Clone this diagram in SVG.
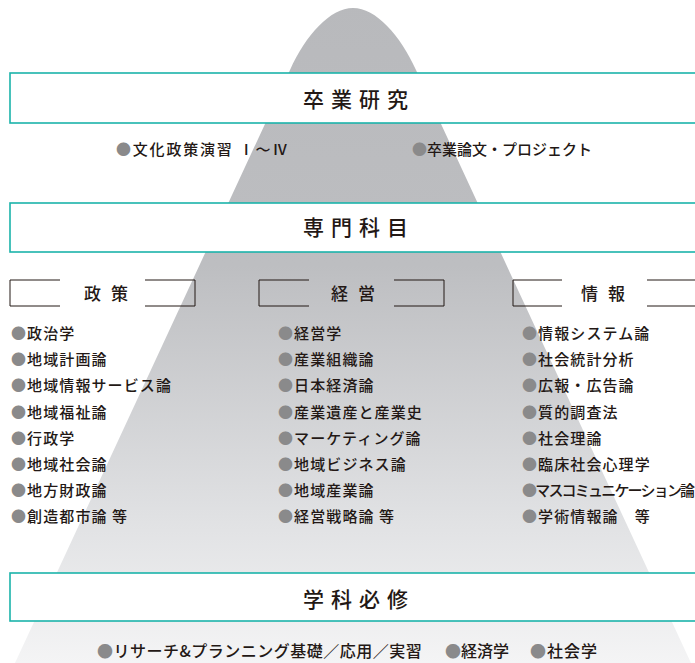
<svg xmlns="http://www.w3.org/2000/svg" width="695" height="663" viewBox="0 0 695 663">
<defs>
<linearGradient id="mtn" x1="0" y1="0" x2="0" y2="663" gradientUnits="userSpaceOnUse">
<stop offset="0" stop-color="#b8b9bc"/>
<stop offset="0.4" stop-color="#bdbec1"/>
<stop offset="0.8" stop-color="#e2e3e5"/>
<stop offset="1" stop-color="#f4f4f5"/>
</linearGradient>
<style>
.t{font-family:"Noto Sans CJK JP","Noto Sans CJK SC",sans-serif;fill:#231815;font-weight:500}
.title{font-size:21px;letter-spacing:7px;text-anchor:middle}
.hd{font-size:17px;letter-spacing:10px;text-anchor:middle}
.li{font-size:15px;letter-spacing:1.1px}
.sm{font-size:15px}
.bt{font-size:16px}
.b{fill:#8a8a8b}
.box{fill:#fff;stroke:#1bb3aa;stroke-width:1.6}
.br{fill:none;stroke:#231815;stroke-width:1}
</style>
</defs>
<rect width="695" height="663" fill="#fff"/>
<g id="mountain">
<path d="M15,663 L290,70 C306,35 330,8 353,8 C376,8 400,35 416,70 L691,663 Z" fill="url(#mtn)"/>
</g>
<g id="sotsugyo-kenkyu">
<rect class="box" x="10" y="73" width="700" height="50"/>
<text class="t title" x="359" y="106.5">卒業研究</text>
</g>
<g id="sotsugyo-items">
<text class="t sm" x="116" y="155" style="letter-spacing:1.8px"><tspan class="b">●</tspan>文化政策演習 Ⅰ〜Ⅳ</text>
<text class="t sm" x="412" y="155" style="letter-spacing:0px"><tspan class="b">●</tspan>卒業論文・プロジェクト</text>
</g>
<g id="senmon-kamoku">
<rect class="box" x="10" y="203" width="700" height="49"/>
<text class="t title" x="359" y="235">専門科目</text>
</g>
<g id="seisaku">
<polyline class="br" points="60,280 10,280 10,306 60,306"/>
<polyline class="br" points="145,280 195,280 195,306 145,306"/>
<text class="t hd" x="111" y="299.5">政策</text>
<text class="t li" x="11" y="339"><tspan class="b">●</tspan>政治学</text>
<text class="t li" x="11" y="365.2"><tspan class="b">●</tspan>地域計画論</text>
<text class="t li" x="11" y="391.4"><tspan class="b">●</tspan>地域情報サービス論</text>
<text class="t li" x="11" y="417.6"><tspan class="b">●</tspan>地域福祉論</text>
<text class="t li" x="11" y="443.8"><tspan class="b">●</tspan>行政学</text>
<text class="t li" x="11" y="470"><tspan class="b">●</tspan>地域社会論</text>
<text class="t li" x="11" y="496.2"><tspan class="b">●</tspan>地方財政論</text>
<text class="t li" x="11" y="522.4"><tspan class="b">●</tspan>創造都市論 等</text>
</g>
<g id="keiei">
<polyline class="br" points="309,280 259,280 259,306 309,306"/>
<polyline class="br" points="394,280 444,280 444,306 394,306"/>
<text class="t hd" x="358" y="299.5">経営</text>
<text class="t li" x="278" y="339"><tspan class="b">●</tspan>経営学</text>
<text class="t li" x="278" y="365.2"><tspan class="b">●</tspan>産業組織論</text>
<text class="t li" x="278" y="391.4"><tspan class="b">●</tspan>日本経済論</text>
<text class="t li" x="278" y="417.6"><tspan class="b">●</tspan>産業遺産と産業史</text>
<text class="t li" x="278" y="443.8"><tspan class="b">●</tspan>マーケティング論</text>
<text class="t li" x="278" y="470"><tspan class="b">●</tspan>地域ビジネス論</text>
<text class="t li" x="278" y="496.2"><tspan class="b">●</tspan>地域産業論</text>
<text class="t li" x="278" y="522.4"><tspan class="b">●</tspan>経営戦略論 等</text>
</g>
<g id="joho">
<polyline class="br" points="562,280 513,280 513,306 562,306"/>
<polyline class="br" points="647,280 700,280 700,306 647,306"/>
<text class="t hd" x="608" y="299.5">情報</text>
<text class="t li" x="522" y="339"><tspan class="b">●</tspan>情報システム論</text>
<text class="t li" x="522" y="365.2"><tspan class="b">●</tspan>社会統計分析</text>
<text class="t li" x="522" y="391.4"><tspan class="b">●</tspan>広報・広告論</text>
<text class="t li" x="522" y="417.6"><tspan class="b">●</tspan>質的調査法</text>
<text class="t li" x="522" y="443.8"><tspan class="b">●</tspan>社会理論</text>
<text class="t li" x="522" y="470"><tspan class="b">●</tspan>臨床社会心理学</text>
<text class="t li" x="522" y="496.2" style="letter-spacing:-1.8px"><tspan class="b">●</tspan>マスコミュニケーション論</text>
<text class="t li" x="522" y="522.4"><tspan class="b">●</tspan>学術情報論　等</text>
</g>
<g id="gakka-hisshu">
<rect class="box" x="10" y="573" width="700" height="48"/>
<text class="t title" x="359" y="607">学科必修</text>
</g>
<g id="hisshu-items">
<text class="t bt" x="97" y="657" style="letter-spacing:0.5px"><tspan class="b">●</tspan>リサーチ&amp;プランニング基礎／応用／実習</text>
<text class="t bt" x="445" y="657"><tspan class="b">●</tspan>経済学</text>
<text class="t bt" x="530" y="657" style="letter-spacing:1px"><tspan class="b">●</tspan>社会学</text>
</g>
</svg>
